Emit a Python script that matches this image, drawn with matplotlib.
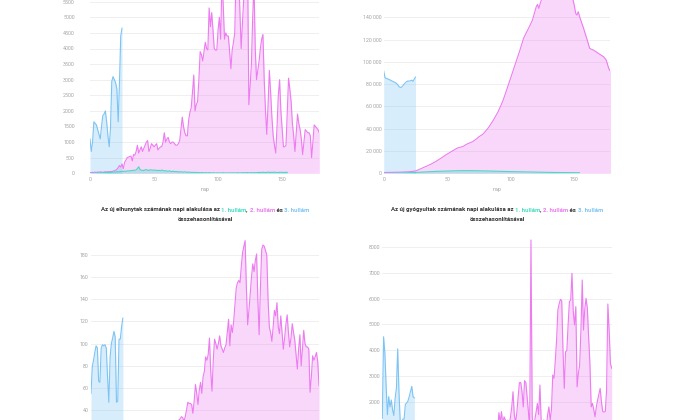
import matplotlib
matplotlib.use('Agg')
import matplotlib.pyplot as plt
import numpy as np

plt.rcParams['font.family'] = ['Roboto', 'DejaVu Sans']

# színek: 1., 2., 3. hullám
C1 = '#45dcc0'
C2 = '#ec7cf0'
C3 = '#7cc4f4'
TXT = '#333333'
TICK = '#a3a3a3'

# --- új esetek ---
cases_w1 = [2, 3, 5, 4, 7, 9, 13, 11, 15, 19, 17, 20, 25, 22, 28, 30, 35, 32, 40, 45,
            38, 50, 55, 48, 60, 65, 58, 70, 62, 75, 80, 72, 90, 85, 100, 95, 110, 150, 210, 120,
            95, 100, 85, 110, 120, 100, 90, 115, 105, 95, 110, 90, 100, 85, 95, 80, 105, 90, 75, 85,
            70, 65, 80, 60, 55, 70, 50, 60, 45, 55, 40, 50, 45, 35, 48, 40, 30, 38, 35, 28,
            30, 25, 32, 20, 28, 22, 18, 25, 20, 15, 20, 18, 15, 22, 16, 12, 18, 14, 10, 16,
            12, 15, 10, 14, 18, 12, 8, 15, 10, 13, 15, 12, 18, 10, 14, 20, 16, 12, 18, 22,
            15, 20, 18, 25, 14, 20, 22, 16, 24, 18, 20, 25, 30, 22, 28, 35, 25, 30, 22, 40,
            30, 28, 35, 25, 38, 30, 20, 32, 28, 35, 30, 25, 32, 28, 30]
cases_w2 = [20, 25, 30, 25, 35, 30, 40, 35, 45, 40, 30, 45, 50, 40, 55, 45, 60, 55, 70, 80,
            100, 130, 180, 250, 200, 300, 150, 350, 420, 500, 520, 540, 550, 400, 600, 580, 700, 900, 650, 750,
            850, 700, 800, 900, 1000, 1050, 700, 800, 950, 900, 850, 900, 950, 750, 800, 850, 850, 1000, 1300, 1000,
            1100, 1150, 1000, 950, 1000, 1000, 950, 900, 900, 950, 1050, 1400, 1800, 1500, 1300, 1200, 1200, 1700, 1950, 2100,
            2600, 3150, 2000, 2200, 2300, 3000, 3900, 3800, 3600, 3900, 4200, 4000, 3950, 5300, 4700, 5150, 4600, 4000, 3950, 3950,
            4600, 5000, 4300, 6200, 5400, 4300, 4500, 4400, 4400, 3900, 3350, 3950, 4200, 4500, 6300, 6000, 6500, 5200, 4000, 4800,
            5600, 6400, 6000, 6800, 2200, 2800, 3500, 5000, 6100, 4000, 3000, 3300, 3600, 4000, 4300, 4450, 3000, 2000, 1250, 2200,
            3300, 2600, 1800, 1200, 900, 650, 1500, 2500, 3000, 2000, 1400, 850, 850, 900, 2000, 3050, 2700, 2300, 1600, 1200,
            700, 1300, 1900, 1600, 1400, 1100, 600, 1000, 1400, 1350, 1300, 1300, 1200, 500, 1000, 1550, 1500, 1450, 1400, 1300]
cases_w3 = [1100, 700, 1000, 1650, 1600, 1550, 1400, 1250, 1100, 1500, 1850, 1900, 2000,
            1650, 1200, 850, 1450, 2950, 3100, 3000, 2900, 2700, 1650, 2900, 4400, 4650]

# --- aktív esetek ---
active_w1 = [10, 15, 22, 30, 42, 50, 63, 75, 92, 110, 128, 152, 170, 205, 228, 262, 300, 338, 385, 420,
             470, 525, 575, 640, 705, 760, 815, 885, 940, 1000, 1065, 1115, 1185, 1240, 1295, 1365, 1420, 1475, 1545, 1600,
             1650, 1705, 1745, 1800, 1855, 1900, 1935, 1985, 2020, 2055, 2100, 2135, 2160, 2185, 2225, 2250, 2265, 2295, 2310, 2330,
             2350, 2365, 2370, 2380, 2395, 2400, 2385, 2380, 2375, 2360, 2345, 2330, 2315, 2290, 2265, 2250, 2235, 2200, 2165, 2140,
             2115, 2080, 2045, 2020, 1995, 1960, 1925, 1900, 1875, 1840, 1805, 1780, 1755, 1720, 1685, 1660, 1635, 1600, 1565, 1540,
             1515, 1480, 1445, 1420, 1395, 1360, 1325, 1300, 1275, 1240, 1205, 1180, 1155, 1120, 1085, 1060, 1035, 1000, 975, 960,
             945, 920, 895, 880, 865, 840, 815, 800, 795, 780, 765, 760, 755, 740, 725, 720, 715, 700, 685, 680,
             675, 660, 645, 640, 635, 620, 605, 600, 595, 580, 570, 565, 550, 545, 530]
active_w2 = [700, 720, 740, 760, 780, 800, 820, 850, 880, 900, 920, 950, 980, 1000, 1050, 1100, 1150, 1200, 1250, 1300,
             1400, 1500, 1600, 1750, 1900, 2100, 2500, 3000, 3500, 4000, 4500, 5000, 5500, 6000, 6500, 6900, 7500, 8100, 8700, 9300,
             9900, 10600, 11300, 12000, 12700, 13500, 14300, 15100, 15900, 16600, 17300, 18000, 18700, 19400, 20200, 20900, 21500, 22100, 22700, 23000,
             23300, 23600, 23900, 24500, 25300, 26000, 26500, 27000, 27500, 28000, 28400, 29200, 30000, 30900, 31900, 32900, 33600, 34300, 35000, 36300,
             37700, 39000, 40400, 42000, 43800, 45500, 47200, 49200, 51200, 53200, 55300, 57800, 60400, 63000, 65800, 69100, 72400, 75800, 79200, 82600,
             86000, 89300, 92700, 96000, 99400, 102700, 106100, 110000, 113700, 117400, 121100, 123500, 125800, 128000, 130100, 132600, 135000, 137500, 141500, 145500,
             149500, 151600, 148000, 152000, 155500, 158000, 160500, 162500, 164500, 166000, 167500, 168500, 169500, 170000, 170500, 170800, 171000, 170800, 170500, 170000,
             169000, 168000, 166500, 165000, 163000, 161000, 159500, 158000, 157000, 155500, 150000, 143500, 142000, 145000, 141000, 137500, 134000, 131000, 127100, 123500,
             120000, 116000, 112100, 111500, 111000, 110600, 109800, 109000, 108300, 107600, 106800, 106000, 105300, 104600, 103100, 101700, 98000, 94200, 92000, 91800]
active_w3 = [91800, 86000, 85200, 84800, 84300, 83800, 83100, 82600, 82000, 81500, 80700, 79500, 77800,
             77100, 77200, 78500, 80000, 81200, 82300, 82800, 82700, 83000, 83600, 82500, 84500, 86300]

# --- elhunytak ---
deaths_w1 = [0, 0, 1, 0, 0, 1, 1, 0, 1, 2, 1, 2, 3, 1, 2, 4, 3, 2, 5, 4,
             3, 6, 5, 4, 7, 6, 8, 5, 9, 7, 8, 10, 9, 11, 12, 10, 13, 11, 14, 12,
             10, 13, 11, 12, 15, 9, 12, 14, 10, 11, 12, 9, 11, 13, 10, 8, 12, 9, 10, 7,
             9, 8, 10, 6, 8, 7, 9, 5, 7, 6, 5, 7, 4, 6, 5, 3, 6, 4, 5, 3,
             4, 2, 3, 5, 2, 3, 1, 4, 2, 3, 2, 1, 3, 2, 1, 2, 0, 1, 2, 1,
             1, 0, 2, 1, 0, 1, 2, 0, 1, 0, 1, 0, 1, 2, 0, 1, 0, 1, 1, 0,
             0, 1, 0, 1, 2, 0, 1, 0, 1, 1, 1, 0, 2, 1, 0, 1, 1, 2, 0, 1,
             2, 1, 0, 1, 3, 2, 1, 2, 1, 0, 1, 2, 1, 0, 2]
deaths_w2 = [1, 0, 1, 2, 0, 1, 1, 2, 1, 0, 2, 1, 1, 3, 2, 1, 2, 3, 2, 4,
             3, 2, 4, 5, 3, 6, 4, 5, 7, 6, 8, 7, 9, 6, 10, 8, 11, 9, 12, 10,
             13, 11, 14, 12, 16, 15, 13, 17, 18, 16, 19, 17, 20, 22, 18, 21, 24, 20, 23, 25,
             22, 26, 24, 27, 25, 28, 30, 26, 29, 31, 32, 34, 33, 30, 34, 40, 47, 46, 46, 45,
             37, 48, 63, 55, 45, 58, 65, 55, 70, 75, 88, 85, 90, 105, 75, 57, 85, 104, 100, 95,
             100, 107, 98, 95, 92, 96, 99, 110, 122, 98, 117, 110, 120, 135, 150, 155, 157, 155, 170, 182,
             188, 193, 150, 117, 130, 145, 160, 172, 165, 175, 181, 140, 108, 150, 185, 189, 188, 184, 180, 140,
             115, 110, 102, 115, 130, 125, 137, 115, 109, 125, 110, 95, 105, 117, 126, 110, 97, 105, 118, 110,
             103, 90, 77, 95, 108, 80, 95, 112, 100, 97, 97, 95, 56, 70, 89, 85, 88, 92, 84, 62]
deaths_w3 = [55, 79, 85, 92, 98, 96, 66, 65, 96, 99, 98, 99, 96,
             70, 47, 88, 100, 105, 111, 106, 47, 48, 104, 104, 115, 123]

# --- gyógyultak ---
recov_w1 = [0, 0, 0, 1, 0, 2, 1, 3, 2, 5, 4, 6, 8, 5, 10, 12, 9, 15, 14, 18,
            20, 16, 25, 22, 30, 28, 35, 26, 40, 38, 45, 42, 50, 55, 48, 60, 58, 70, 65, 75,
            80, 72, 90, 85, 95, 110, 100, 120, 105, 130, 140, 115, 125, 150, 135, 160, 120, 145, 130, 110,
            125, 100, 115, 90, 105, 80, 95, 85, 70, 90, 75, 60, 80, 65, 55, 70, 50, 60, 45, 55,
            40, 50, 35, 45, 30, 42, 28, 35, 25, 38, 30, 22, 28, 18, 25, 20, 15, 24, 18, 20,
            15, 22, 12, 18, 25, 14, 20, 10, 16, 12, 18, 14, 20, 10, 15, 22, 12, 18, 15, 10,
            14, 20, 16, 12, 18, 25, 15, 20, 14, 22, 18, 24, 15, 20, 28, 16, 22, 18, 25, 20,
            26, 18, 22, 30, 20, 24, 28, 18, 25, 22, 20, 26, 18, 24, 22]
recov_w2 = [20, 35, 25, 40, 30, 45, 50, 35, 55, 40, 60, 45, 70, 55, 65, 80, 60, 75, 90, 70,
            85, 100, 80, 95, 110, 90, 120, 105, 130, 115, 140, 125, 150, 135, 160, 145, 170, 155, 180, 200,
            190, 210, 230, 205, 250, 240, 270, 260, 290, 310, 280, 320, 350, 330, 370, 400, 360, 420, 450, 410,
            480, 520, 470, 550, 600, 560, 640, 690, 620, 720, 780, 700, 820, 880, 790, 920, 980, 860, 1000, 1080,
            950, 1120, 1050, 1180, 1000, 1200, 1100, 1250, 980, 1150, 900, 1580, 1200, 1620, 1100, 1420, 1300, 1000, 1290, 1100,
            1400, 1800, 2390, 1500, 1200, 1600, 2200, 2740, 2750, 2400, 1800, 2820, 2750, 2200, 1620, 1000, 8270, 1400, 900, 1300,
            1600, 1940, 1500, 2650, 1230, 1100, 1300, 1200, 1000, 1500, 1800, 1300, 1700, 3040, 2910, 3600, 4400, 5560, 5800, 5970,
            5920, 4000, 2520, 3940, 3980, 5000, 5880, 5950, 6980, 5500, 4980, 5690, 2580, 3100, 3420, 4800, 6720, 4780, 5600, 6010,
            5620, 4500, 3490, 1800, 1940, 1700, 1420, 1800, 2070, 2300, 2520, 2000, 1620, 1600, 1620, 2450, 5790, 4780, 3490, 3300]
recov_w3 = [1360, 4520, 3900, 2600, 1500, 2200, 1800, 2070, 1700, 1470, 2130, 2520, 4050,
            2400, 1200, 1150, 1330, 1330, 1900, 1950, 2030, 2200, 2400, 2600, 2200, 2150]

fig = plt.figure(figsize=(7, 4.2), dpi=100)


def rect(left, right, zero_y, top_y):
    # pixel koordinátákból ábra-arány
    return [left / 700, (420 - zero_y) / 420, (right - left) / 700, (zero_y - top_y) / 420]


def fmt(v):
    v = int(v)
    if v >= 10000:
        return f"{v:,}".replace(',', ' ')
    return str(v)


def panel(r, xmax, ymax, yticks, w1, w2, w3, ypad, xaxis=True):
    ax = fig.add_axes(r)
    for vals, col in [(w2, C2), (w3, C3), (w1, C1)]:
        x = np.arange(len(vals))
        ax.fill_between(x, vals, color=col, alpha=0.3, lw=0)
        ax.plot(x, vals, color=col, lw=0.8)
    ax.set_xlim(0, xmax)
    ax.set_ylim(0, ymax)
    ax.set_yticks(yticks)
    ax.set_yticklabels([fmt(t) for t in yticks])
    ax.grid(axis='y', color='#ececec', lw=0.6)
    ax.set_axisbelow(True)
    for s in ax.spines.values():
        s.set_visible(False)
    ax.tick_params(axis='both', length=0, labelsize=3.8, labelcolor=TICK)
    ax.tick_params(axis='y', pad=ypad)
    if xaxis:
        ax.set_xticks([0, 50, 100, 150])
        ax.tick_params(axis='x', pad=3)
        ax.set_xlabel('nap', fontsize=3.8, color=TICK, labelpad=3.5)
    else:
        # az alsó sor x tengelye kilóg a képből
        ax.set_xticks([])
    return ax


panel(rect(90, 319.3, 173.3, 173.3 - 7000 * 0.0312), 179, 7000,
      list(range(0, 5501, 500)), cases_w1, cases_w2, cases_w3, 11)
panel(rect(383.7, 610, 173.3, 173.3 - 180000 / 897.4), 178, 180000,
      list(range(0, 140001, 20000)), active_w1, active_w2, active_w3, 1.5)
panel(rect(91, 319, 454.3, 454.3 - 195 * 1.107), 179, 195,
      list(range(40, 181, 20)), deaths_w1, deaths_w2, deaths_w3, 2, xaxis=False)
panel(rect(382.3, 611.7, 453.4, 453.4 - 8300 * 0.0258), 179, 8300,
      list(range(2000, 8001, 1000)), recov_w1, recov_w2, recov_w3, 1.5, xaxis=False)

renderer = fig.canvas.get_renderer()


def color_title(cx, y1, y2, what):
    parts = [("Az új " + what + " számának napi alakulása az ", TXT), ("1. hullám", C1), (", ", TXT),
             ("2. hullám", C2), (" és ", TXT), ("3. hullám", C3)]
    texts = []
    for s, c in parts:
        t = fig.text(0, 1 - y1 / 420, s, color=c, fontsize=4.3, fontweight='bold', va='center', ha='left')
        texts.append(t)
    widths = [t.get_window_extent(renderer).width for t in texts]
    x = cx - sum(widths) / 2
    for t, w in zip(texts, widths):
        t.set_x(x / 700)
        x += w
    fig.text(cx / 700, 1 - y2 / 420, "összehasonlításával", color=TXT, fontsize=4.3,
             fontweight='bold', va='center', ha='center')


color_title(205, 210, 219, "elhunytak")
color_title(497, 210, 219, "gyógyultak")

fig.savefig('out.png', dpi=100, facecolor='white')
